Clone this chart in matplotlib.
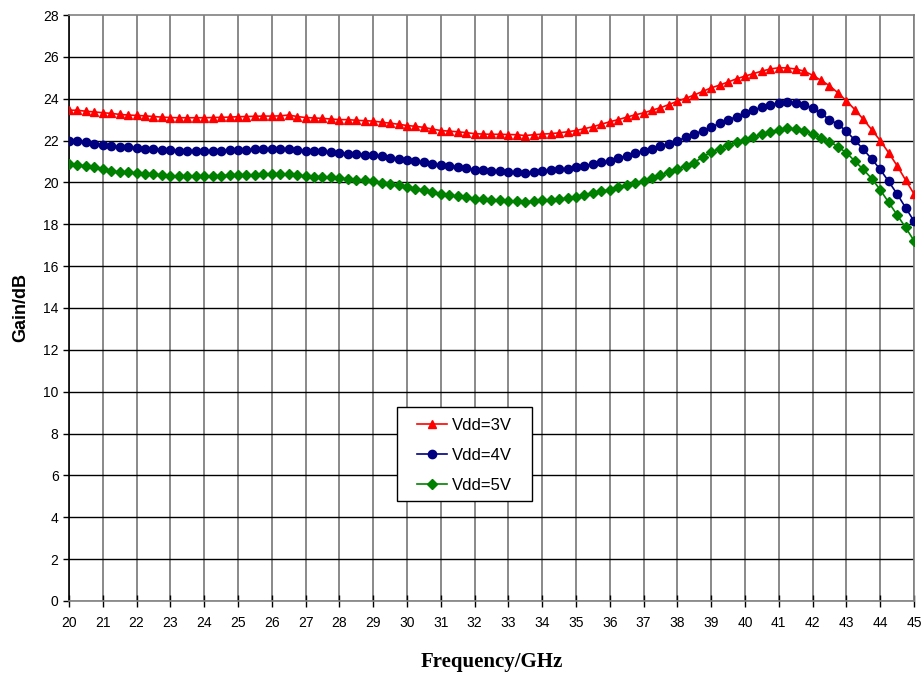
import numpy as np
import matplotlib
matplotlib.use("Agg")
import matplotlib.pyplot as plt
from matplotlib.patches import Rectangle

freq = np.arange(20.0, 45.001, 0.25)

gain_3v = [23.45, 23.45, 23.40, 23.37, 23.33, 23.30, 23.25, 23.22, 23.20, 23.18,
           23.15, 23.12, 23.10, 23.09, 23.09, 23.09, 23.09, 23.10, 23.11, 23.12,
           23.14, 23.15, 23.16, 23.17, 23.17, 23.18, 23.22, 23.15, 23.10, 23.08,
           23.06, 23.03, 23.00, 23.00, 22.97, 22.95, 22.93, 22.88, 22.83, 22.78,
           22.72, 22.68, 22.63, 22.55, 22.48, 22.45, 22.42, 22.38, 22.33, 22.31,
           22.30, 22.30, 22.29, 22.28, 22.24, 22.28, 22.31, 22.33, 22.37, 22.42,
           22.48, 22.57, 22.66, 22.78, 22.90, 23.00, 23.12, 23.23, 23.32, 23.45,
           23.57, 23.72, 23.88, 24.02, 24.18, 24.35, 24.52, 24.65, 24.80, 24.95,
           25.08, 25.20, 25.32, 25.42, 25.48, 25.47, 25.42, 25.32, 25.12, 24.88,
           24.62, 24.28, 23.90, 23.48, 23.02, 22.52, 22.00, 21.42, 20.80, 20.12,
           19.45]

gain_4v = [22.00, 22.00, 21.93, 21.86, 21.80, 21.75, 21.70, 21.68, 21.65, 21.62,
           21.60, 21.56, 21.53, 21.52, 21.51, 21.50, 21.50, 21.51, 21.52, 21.54,
           21.55, 21.56, 21.58, 21.59, 21.59, 21.59, 21.62, 21.56, 21.50, 21.49,
           21.48, 21.45, 21.42, 21.38, 21.36, 21.33, 21.30, 21.25, 21.18, 21.12,
           21.07, 21.02, 20.97, 20.90, 20.83, 20.80, 20.75, 20.68, 20.60, 20.58,
           20.55, 20.53, 20.51, 20.50, 20.45, 20.50, 20.55, 20.58, 20.62, 20.66,
           20.72, 20.80, 20.88, 20.96, 21.04, 21.16, 21.28, 21.39, 21.50, 21.60,
           21.72, 21.85, 22.00, 22.15, 22.30, 22.48, 22.65, 22.82, 22.98, 23.15,
           23.32, 23.45, 23.60, 23.72, 23.80, 23.82, 23.80, 23.72, 23.55, 23.30,
           23.00, 22.78, 22.45, 22.02, 21.58, 21.12, 20.62, 20.05, 19.45, 18.80,
           18.15]

gain_5v = [20.90, 20.85, 20.78, 20.72, 20.65, 20.55, 20.50, 20.48, 20.45, 20.42,
           20.40, 20.35, 20.32, 20.30, 20.29, 20.29, 20.30, 20.31, 20.33, 20.34,
           20.35, 20.36, 20.37, 20.38, 20.38, 20.38, 20.40, 20.35, 20.30, 20.28,
           20.27, 20.24, 20.22, 20.15, 20.12, 20.10, 20.05, 19.98, 19.92, 19.86,
           19.78, 19.70, 19.62, 19.55, 19.47, 19.40, 19.34, 19.28, 19.23, 19.19,
           19.16, 19.14, 19.12, 19.11, 19.07, 19.10, 19.14, 19.17, 19.20, 19.25,
           19.31, 19.40, 19.48, 19.57, 19.66, 19.78, 19.88, 19.98, 20.08, 20.22,
           20.35, 20.50, 20.65, 20.80, 20.95, 21.22, 21.45, 21.62, 21.80, 21.92,
           22.02, 22.15, 22.30, 22.42, 22.52, 22.58, 22.56, 22.48, 22.32, 22.12,
           21.95, 21.70, 21.42, 21.02, 20.62, 20.18, 19.65, 19.05, 18.45, 17.85,
           17.22]

labels = ["Vdd=3V", "Vdd=4V", "Vdd=5V"]
xticks = list(range(20, 46))
yticks = list(range(0, 29, 2))

fig = plt.figure(figsize=(9.22, 6.73), dpi=100)
ax = fig.add_axes([0.0748, 0.107, 0.9165, 0.8707])

for x in xticks:
    ax.axvline(x, color="#808080", lw=1.3, zorder=1)
for y in yticks[:-1]:
    ax.axhline(y, color="black", lw=1.0, zorder=1)

ax.plot(freq, gain_3v, color="#FF0000", marker="^", ms=6, lw=1.2, label=labels[0], zorder=3)
ax.plot(freq, gain_4v, color="#000080", marker="o", ms=6, lw=1.2, label=labels[1], zorder=3)
ax.plot(freq, gain_5v, color="#008000", marker="D", ms=4.8, lw=1.2, label=labels[2], zorder=3)

ax.set_xlim(20, 45)
ax.set_ylim(0, 28)
ax.set_xticks(xticks)
ax.set_yticks(yticks)
ax.tick_params(axis="both", labelsize=10, direction="out", length=4, width=1)
ax.tick_params(axis="x", direction="inout", length=8, pad=7)
for lab in ax.get_xticklabels() + ax.get_yticklabels():
    lab.set_family("Liberation Sans")

ax.spines["left"].set_color("black")
ax.spines["top"].set_color("#808080")
ax.spines["bottom"].set_color("#808080")
ax.spines["right"].set_color("#808080")
for s in ax.spines.values():
    s.set_linewidth(1.2)

ax.set_ylabel("Gain/dB", fontsize=13, fontweight="bold", family="Liberation Sans", labelpad=10)
ax.set_xlabel("Frequency/GHz", fontsize=15, fontweight="bold", family="Liberation Serif", labelpad=16)

# legend frame
frame = Rectangle((0.388, 0.1706), 0.160, 0.1604, transform=ax.transAxes,
                  facecolor="white", edgecolor="black", lw=1.0, zorder=4)
ax.add_patch(frame)

leg = ax.legend(loc="center left", bbox_to_anchor=(0.412, 0.249), borderaxespad=0,
                frameon=False, borderpad=0,
                prop={"family": "Liberation Sans", "size": 12},
                handlelength=1.8, labelspacing=0.9, handletextpad=0.3)
leg.set_zorder(5)

fig.savefig("out.png", dpi=100)
